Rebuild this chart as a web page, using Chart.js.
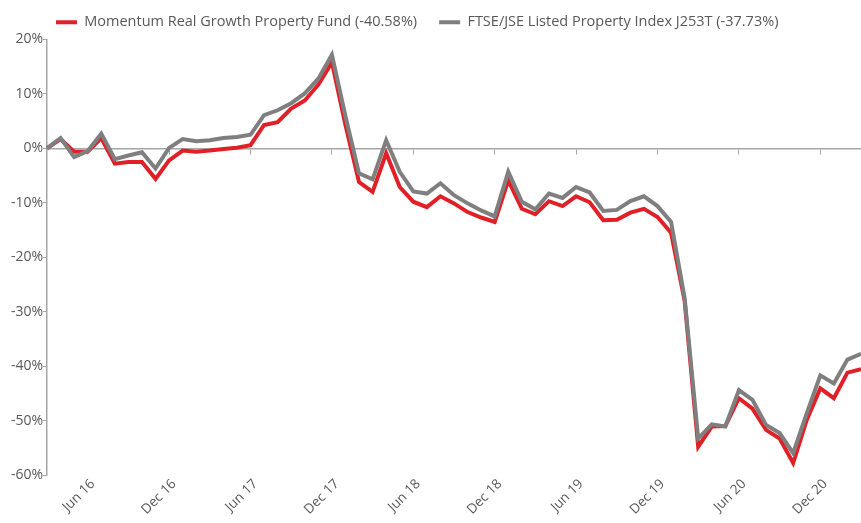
<!DOCTYPE html>
<html>
<head>
<meta charset="utf-8">
<script src="https://cdn.jsdelivr.net/npm/chart.js@4/dist/chart.umd.min.js"></script>
<style>
html,body{margin:0;padding:0;background:#fff;}
#wrap{width:861px;height:523px;position:relative;}
</style>
</head>
<body>
<div id="wrap"><canvas id="c"></canvas></div>
<script>
const months = ["Mar 16","Apr 16","May 16","Jun 16","Jul 16","Aug 16","Sep 16","Oct 16","Nov 16","Dec 16",
"Jan 17","Feb 17","Mar 17","Apr 17","May 17","Jun 17","Jul 17","Aug 17","Sep 17","Oct 17","Nov 17","Dec 17",
"Jan 18","Feb 18","Mar 18","Apr 18","May 18","Jun 18","Jul 18","Aug 18","Sep 18","Oct 18","Nov 18","Dec 18",
"Jan 19","Feb 19","Mar 19","Apr 19","May 19","Jun 19","Jul 19","Aug 19","Sep 19","Oct 19","Nov 19","Dec 19",
"Jan 20","Feb 20","Mar 20","Apr 20","May 20","Jun 20","Jul 20","Aug 20","Sep 20","Oct 20","Nov 20","Dec 20",
"Jan 21","Feb 21","Mar 21"];

const fundName = "Momentum Real Growth Property Fund (-40.58%)";
const indexName = "FTSE/JSE Listed Property Index J253T (-37.73%)";

const fundValues = [0,1.7,-0.6,-0.6,1.9,-2.8,-2.5,-2.5,-5.6,-2.2,
-0.4,-0.6,-0.4,-0.1,0.1,0.6,4.3,4.8,7.3,8.8,11.7,15.8,
4.3,-6.2,-8.0,-0.9,-7.1,-9.8,-10.8,-8.8,-10.1,-11.7,-12.7,-13.5,
-5.9,-11.1,-12.1,-9.7,-10.6,-8.8,-9.9,-13.2,-13.1,-11.8,-11.1,-12.6,
-15.5,-28.0,-54.8,-51.1,-51.0,-45.9,-47.8,-51.7,-53.3,-57.8,-49.9,-44.1,
-45.9,-41.2,-40.58];

const indexValues = [0,1.9,-1.6,-0.5,2.7,-2.0,-1.3,-0.7,-3.7,0.1,
1.7,1.3,1.5,1.9,2.1,2.5,6.1,7.0,8.3,10.1,12.8,17.2,
5.9,-4.6,-5.7,1.5,-4.3,-7.9,-8.3,-6.4,-8.6,-10.1,-11.4,-12.5,
-4.3,-9.8,-11.2,-8.3,-9.1,-7.1,-8.1,-11.5,-11.3,-9.7,-8.8,-10.6,
-13.5,-27.5,-53.3,-50.7,-51.1,-44.4,-46.2,-50.8,-52.3,-56.0,-48.7,-41.7,
-43.2,-38.8,-37.73];

const yTicks = [20,10,0,-10,-20,-30,-40,-50,-60];

const RED = '#e02026';
const GRAY = '#7f7f7f';
const TEXT = '#595959';
const FONT = "'Open Sans', 'Noto Sans', sans-serif";

function isShown(i){ const m = months[i] || ''; return m.startsWith('Jun') || m.startsWith('Dec'); }

function noSidePad(axis){ axis.paddingLeft = 0; axis.paddingRight = 0; }

const legendShift = {
  id: 'legendShift',
  afterLayout(chart){ if (chart.legend) { chart.legend.left = 34; } }
};

new Chart(document.getElementById('c'), {
  type: 'line',
  data: {
    labels: months,
    datasets: [
      {label: fundName, data: fundValues, borderColor: RED, backgroundColor: RED, borderWidth: 4, order: 1},
      {label: indexName, data: indexValues, borderColor: GRAY, backgroundColor: GRAY, borderWidth: 4, order: 0}
    ]
  },
  plugins: [legendShift],
  options: {
    responsive: true,
    maintainAspectRatio: false,
    animation: false,
    layout: {padding: {left: 0, right: 0, top: -7, bottom: 0}},
    elements: {
      point: {radius: 0, hoverRadius: 0},
      line: {tension: 0, borderJoinStyle: 'miter', borderCapStyle: 'butt', fill: false}
    },
    plugins: {
      tooltip: {enabled: false},
      legend: {
        position: 'top',
        align: 'start',
        labels: {
          color: TEXT,
          font: {family: FONT, size: 14.5},
          boxWidth: 21,
          boxHeight: 4,
          padding: 22,
          sort: (a, b) => a.datasetIndex - b.datasetIndex,
          generateLabels: (chart) => {
            const items = Chart.defaults.plugins.legend.labels.generateLabels(chart);
            items.forEach(it => { it.lineWidth = 0; });
            return items;
          }
        }
      }
    },
    scales: {
      x: {
        type: 'category',
        position: 'bottom',
        offset: false,
        border: {display: false},
        grid: {display: false},
        ticks: {
          autoSkip: false,
          minRotation: 45,
          maxRotation: 45,
          padding: -7,
          labelOffset: 5,
          color: TEXT,
          font: {family: FONT, size: 13.5},
          callback: function(v, i){ return isShown(i) ? months[i] : ''; }
        },
        afterFit: (axis) => { axis.height = 48; noSidePad(axis); }
      },
      x2: {
        type: 'category',
        labels: months,
        position: {y: 0},
        offset: false,
        border: {display: true, color: '#a6a6a6', width: 1.5},
        grid: {
          drawOnChartArea: false,
          drawTicks: true,
          tickLength: 5,
          lineWidth: 1,
          color: 'transparent',
          tickColor: (ctx) => isShown(ctx.index) ? '#a6a6a6' : 'transparent'
        },
        ticks: {display: false, autoSkip: false},
        afterFit: (axis) => { noSidePad(axis); }
      },
      y: {
        min: -60,
        max: 20,
        afterBuildTicks: (axis) => { axis.ticks = yTicks.map(v => ({value: v})); },
        border: {display: true, color: '#a6a6a6', width: 1.5},
        grid: {
          drawOnChartArea: false,
          drawTicks: true,
          tickLength: 4,
          tickColor: '#a6a6a6'
        },
        ticks: {
          padding: 0,
          color: TEXT,
          font: {family: FONT, size: 14},
          callback: (v) => v + '%'
        },
        afterFit: (axis) => { axis.width = 47; }
      }
    }
  }
});
</script>
</body>
</html>
